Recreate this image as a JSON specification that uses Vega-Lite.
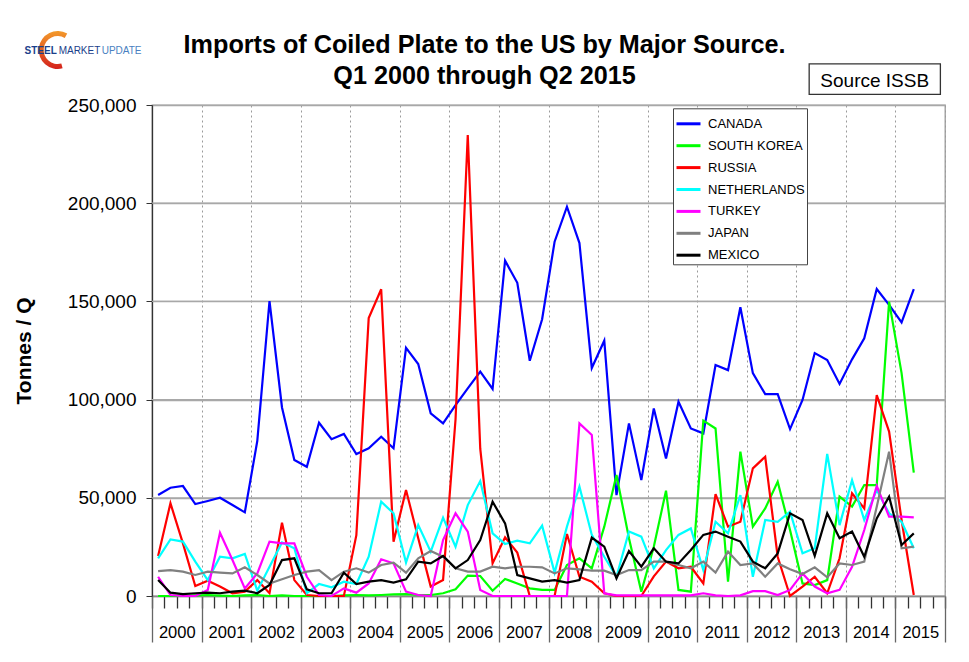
{
  "$schema": "https://vega.github.io/schema/vega-lite/v6.json",
  "width": 793,
  "height": 491,
  "autosize": {"type": "none"},
  "padding": {"left": 152, "top": 105, "right": 24, "bottom": 66},
  "background": "white",
  "config": {
    "font": "Liberation Sans",
    "view": {"stroke": "#9a9a9a", "strokeWidth": 1.3},
    "axisY": {
      "format": ",d",
      "tickCount": 5,
      "labelFontSize": 19,
      "labelColor": "black",
      "labelPadding": 10,
      "tickSize": 6,
      "tickColor": "#333333",
      "domainColor": "#333333",
      "domainWidth": 1.3,
      "grid": true,
      "gridColor": "#a8a8a8",
      "gridWidth": 1.3,
      "titleFontSize": 21,
      "titleFontWeight": "bold",
      "titleColor": "black",
      "titleX": -128,
      "titleBaseline": "middle"
    }
  },
  "title": {
    "text": ["Imports of Coiled Plate to the US by Major Source.", "Q1 2000 through Q2 2015"],
    "fontSize": 25.2,
    "fontWeight": "bold",
    "color": "black",
    "anchor": "middle",
    "frame": "group",
    "dx": -64,
    "offset": -58.5,
    "lineHeight": 31.6
  },
  "data": {
    "values": [
      {"date": "2000-02-15", "CANADA": 51400, "SOUTH KOREA": 0, "RUSSIA": 20400, "NETHERLANDS": 19200, "TURKEY": 9800, "JAPAN": 12700, "MEXICO": 8100},
      {"date": "2000-05-16", "CANADA": 55100, "SOUTH KOREA": 0, "RUSSIA": 47200, "NETHERLANDS": 28800, "TURKEY": 500, "JAPAN": 13200, "MEXICO": 1700},
      {"date": "2000-08-16", "CANADA": 56000, "SOUTH KOREA": 0, "RUSSIA": 26800, "NETHERLANDS": 27700, "TURKEY": 0, "JAPAN": 12400, "MEXICO": 1000},
      {"date": "2000-11-15", "CANADA": 46800, "SOUTH KOREA": 300, "RUSSIA": 5100, "NETHERLANDS": 17500, "TURKEY": 0, "JAPAN": 10700, "MEXICO": 1400},
      {"date": "2001-02-15", "CANADA": 48400, "SOUTH KOREA": 500, "RUSSIA": 7800, "NETHERLANDS": 8100, "TURKEY": 3100, "JAPAN": 12400, "MEXICO": 1700},
      {"date": "2001-05-16", "CANADA": 50000, "SOUTH KOREA": 200, "RUSSIA": 4800, "NETHERLANDS": 20000, "TURKEY": 32200, "JAPAN": 11900, "MEXICO": 1400},
      {"date": "2001-08-16", "CANADA": 46300, "SOUTH KOREA": 0, "RUSSIA": 1400, "NETHERLANDS": 19200, "TURKEY": 18300, "JAPAN": 11500, "MEXICO": 2200},
      {"date": "2001-11-15", "CANADA": 42600, "SOUTH KOREA": 300, "RUSSIA": 2200, "NETHERLANDS": 21400, "TURKEY": 3900, "JAPAN": 14600, "MEXICO": 2700},
      {"date": "2002-02-15", "CANADA": 79000, "SOUTH KOREA": 500, "RUSSIA": 8100, "NETHERLANDS": 2700, "TURKEY": 11500, "JAPAN": 10700, "MEXICO": 1400},
      {"date": "2002-05-16", "CANADA": 150200, "SOUTH KOREA": 0, "RUSSIA": 1400, "NETHERLANDS": 14900, "TURKEY": 27700, "JAPAN": 6400, "MEXICO": 5600},
      {"date": "2002-08-16", "CANADA": 96000, "SOUTH KOREA": 300, "RUSSIA": 37300, "NETHERLANDS": 27300, "TURKEY": 26800, "JAPAN": 8500, "MEXICO": 18300},
      {"date": "2002-11-15", "CANADA": 69200, "SOUTH KOREA": 0, "RUSSIA": 8100, "NETHERLANDS": 24300, "TURKEY": 26800, "JAPAN": 10700, "MEXICO": 19200},
      {"date": "2003-02-15", "CANADA": 65800, "SOUTH KOREA": 0, "RUSSIA": 500, "NETHERLANDS": 1400, "TURKEY": 9800, "JAPAN": 12400, "MEXICO": 3400},
      {"date": "2003-05-16", "CANADA": 88200, "SOUTH KOREA": 0, "RUSSIA": 0, "NETHERLANDS": 6100, "TURKEY": 500, "JAPAN": 13200, "MEXICO": 1400},
      {"date": "2003-08-16", "CANADA": 79800, "SOUTH KOREA": 0, "RUSSIA": 0, "NETHERLANDS": 4400, "TURKEY": 0, "JAPAN": 8100, "MEXICO": 1400},
      {"date": "2003-11-15", "CANADA": 82500, "SOUTH KOREA": 300, "RUSSIA": 0, "NETHERLANDS": 7300, "TURKEY": 3900, "JAPAN": 12400, "MEXICO": 11900},
      {"date": "2004-02-15", "CANADA": 72300, "SOUTH KOREA": 500, "RUSSIA": 31000, "NETHERLANDS": 6100, "TURKEY": 1700, "JAPAN": 14100, "MEXICO": 6100},
      {"date": "2004-05-16", "CANADA": 75200, "SOUTH KOREA": 300, "RUSSIA": 141500, "NETHERLANDS": 20000, "TURKEY": 6400, "JAPAN": 11900, "MEXICO": 7300},
      {"date": "2004-08-16", "CANADA": 81100, "SOUTH KOREA": 500, "RUSSIA": 156200, "NETHERLANDS": 48000, "TURKEY": 18700, "JAPAN": 15800, "MEXICO": 8100},
      {"date": "2004-11-15", "CANADA": 75200, "SOUTH KOREA": 800, "RUSSIA": 27600, "NETHERLANDS": 42100, "TURKEY": 16600, "JAPAN": 17000, "MEXICO": 6800},
      {"date": "2005-02-15", "CANADA": 126400, "SOUTH KOREA": 1000, "RUSSIA": 54000, "NETHERLANDS": 17000, "TURKEY": 2200, "JAPAN": 11900, "MEXICO": 8500},
      {"date": "2005-05-16", "CANADA": 118100, "SOUTH KOREA": 500, "RUSSIA": 29400, "NETHERLANDS": 36100, "TURKEY": 500, "JAPAN": 19200, "MEXICO": 17500},
      {"date": "2005-08-16", "CANADA": 93000, "SOUTH KOREA": 500, "RUSSIA": 4800, "NETHERLANDS": 22600, "TURKEY": 0, "JAPAN": 22900, "MEXICO": 16600},
      {"date": "2005-11-15", "CANADA": 87900, "SOUTH KOREA": 1400, "RUSSIA": 8100, "NETHERLANDS": 39900, "TURKEY": 28500, "JAPAN": 20000, "MEXICO": 20400},
      {"date": "2006-02-15", "CANADA": 97200, "SOUTH KOREA": 3400, "RUSSIA": 90000, "NETHERLANDS": 25100, "TURKEY": 42100, "JAPAN": 14100, "MEXICO": 14100},
      {"date": "2006-05-16", "CANADA": 105700, "SOUTH KOREA": 10400, "RUSSIA": 234700, "NETHERLANDS": 46300, "TURKEY": 32800, "JAPAN": 12400, "MEXICO": 18300},
      {"date": "2006-08-16", "CANADA": 114200, "SOUTH KOREA": 10200, "RUSSIA": 75000, "NETHERLANDS": 58500, "TURKEY": 3100, "JAPAN": 12400, "MEXICO": 28500},
      {"date": "2006-11-15", "CANADA": 105400, "SOUTH KOREA": 2700, "RUSSIA": 16600, "NETHERLANDS": 31900, "TURKEY": 0, "JAPAN": 14900, "MEXICO": 48000},
      {"date": "2007-02-15", "CANADA": 170700, "SOUTH KOREA": 8700, "RUSSIA": 29900, "NETHERLANDS": 26500, "TURKEY": 0, "JAPAN": 14100, "MEXICO": 37000},
      {"date": "2007-05-16", "CANADA": 159500, "SOUTH KOREA": 6400, "RUSSIA": 22100, "NETHERLANDS": 28200, "TURKEY": 0, "JAPAN": 14900, "MEXICO": 10700},
      {"date": "2007-08-16", "CANADA": 119800, "SOUTH KOREA": 3900, "RUSSIA": 0, "NETHERLANDS": 26800, "TURKEY": 0, "JAPAN": 14900, "MEXICO": 9000},
      {"date": "2007-11-15", "CANADA": 140900, "SOUTH KOREA": 3100, "RUSSIA": 0, "NETHERLANDS": 35800, "TURKEY": 0, "JAPAN": 14600, "MEXICO": 7300},
      {"date": "2008-02-15", "CANADA": 180400, "SOUTH KOREA": 3100, "RUSSIA": 0, "NETHERLANDS": 11900, "TURKEY": 0, "JAPAN": 11500, "MEXICO": 8100},
      {"date": "2008-05-16", "CANADA": 198200, "SOUTH KOREA": 15800, "RUSSIA": 31600, "NETHERLANDS": 35300, "TURKEY": 0, "JAPAN": 14100, "MEXICO": 6800},
      {"date": "2008-08-16", "CANADA": 179700, "SOUTH KOREA": 19200, "RUSSIA": 9800, "NETHERLANDS": 55700, "TURKEY": 87900, "JAPAN": 13600, "MEXICO": 8100},
      {"date": "2008-11-15", "CANADA": 116100, "SOUTH KOREA": 14100, "RUSSIA": 7300, "NETHERLANDS": 31100, "TURKEY": 82000, "JAPAN": 12900, "MEXICO": 29700},
      {"date": "2009-02-15", "CANADA": 130000, "SOUTH KOREA": 35300, "RUSSIA": 1400, "NETHERLANDS": 20000, "TURKEY": 1400, "JAPAN": 12900, "MEXICO": 25100},
      {"date": "2009-05-16", "CANADA": 51400, "SOUTH KOREA": 61600, "RUSSIA": 0, "NETHERLANDS": 9800, "TURKEY": 300, "JAPAN": 10700, "MEXICO": 9000},
      {"date": "2009-08-16", "CANADA": 87900, "SOUTH KOREA": 29400, "RUSSIA": 0, "NETHERLANDS": 32800, "TURKEY": 300, "JAPAN": 13200, "MEXICO": 22900},
      {"date": "2009-11-15", "CANADA": 59000, "SOUTH KOREA": 2200, "RUSSIA": 0, "NETHERLANDS": 30200, "TURKEY": 300, "JAPAN": 13200, "MEXICO": 14900},
      {"date": "2010-02-15", "CANADA": 95500, "SOUTH KOREA": 25100, "RUSSIA": 10000, "NETHERLANDS": 14100, "TURKEY": 300, "JAPAN": 17500, "MEXICO": 24300},
      {"date": "2010-05-16", "CANADA": 70000, "SOUTH KOREA": 53600, "RUSSIA": 17500, "NETHERLANDS": 23400, "TURKEY": 300, "JAPAN": 17500, "MEXICO": 17500},
      {"date": "2010-08-16", "CANADA": 98900, "SOUTH KOREA": 3100, "RUSSIA": 14100, "NETHERLANDS": 31100, "TURKEY": 300, "JAPAN": 15800, "MEXICO": 16600},
      {"date": "2010-11-15", "CANADA": 85300, "SOUTH KOREA": 2200, "RUSSIA": 14900, "NETHERLANDS": 34400, "TURKEY": 300, "JAPAN": 14100, "MEXICO": 23400},
      {"date": "2011-02-15", "CANADA": 82800, "SOUTH KOREA": 89300, "RUSSIA": 6400, "NETHERLANDS": 13200, "TURKEY": 1400, "JAPAN": 17500, "MEXICO": 31100},
      {"date": "2011-05-16", "CANADA": 117600, "SOUTH KOREA": 85300, "RUSSIA": 51900, "NETHERLANDS": 37800, "TURKEY": 300, "JAPAN": 11900, "MEXICO": 32800},
      {"date": "2011-08-16", "CANADA": 115000, "SOUTH KOREA": 7300, "RUSSIA": 35300, "NETHERLANDS": 31900, "TURKEY": 0, "JAPAN": 22600, "MEXICO": 30200},
      {"date": "2011-11-15", "CANADA": 147000, "SOUTH KOREA": 73500, "RUSSIA": 37800, "NETHERLANDS": 51400, "TURKEY": 300, "JAPAN": 15800, "MEXICO": 27700},
      {"date": "2012-02-15", "CANADA": 113500, "SOUTH KOREA": 35300, "RUSSIA": 65000, "NETHERLANDS": 9800, "TURKEY": 2500, "JAPAN": 16600, "MEXICO": 17500},
      {"date": "2012-05-16", "CANADA": 102800, "SOUTH KOREA": 44600, "RUSSIA": 70900, "NETHERLANDS": 38700, "TURKEY": 2500, "JAPAN": 9800, "MEXICO": 14100},
      {"date": "2012-08-16", "CANADA": 102800, "SOUTH KOREA": 58200, "RUSSIA": 20000, "NETHERLANDS": 37800, "TURKEY": 500, "JAPAN": 16600, "MEXICO": 21700},
      {"date": "2012-11-15", "CANADA": 85000, "SOUTH KOREA": 33600, "RUSSIA": 0, "NETHERLANDS": 42900, "TURKEY": 3100, "JAPAN": 13600, "MEXICO": 42100},
      {"date": "2013-02-15", "CANADA": 99800, "SOUTH KOREA": 6400, "RUSSIA": 4800, "NETHERLANDS": 21700, "TURKEY": 11500, "JAPAN": 11200, "MEXICO": 38700},
      {"date": "2013-05-16", "CANADA": 123700, "SOUTH KOREA": 5600, "RUSSIA": 9800, "NETHERLANDS": 24300, "TURKEY": 4800, "JAPAN": 14600, "MEXICO": 20400},
      {"date": "2013-08-16", "CANADA": 120200, "SOUTH KOREA": 8100, "RUSSIA": 1400, "NETHERLANDS": 72300, "TURKEY": 1400, "JAPAN": 9500, "MEXICO": 42100},
      {"date": "2013-11-15", "CANADA": 108000, "SOUTH KOREA": 50600, "RUSSIA": 19200, "NETHERLANDS": 36100, "TURKEY": 3100, "JAPAN": 16600, "MEXICO": 29400},
      {"date": "2014-02-15", "CANADA": 120500, "SOUTH KOREA": 45500, "RUSSIA": 52300, "NETHERLANDS": 59000, "TURKEY": 14900, "JAPAN": 15800, "MEXICO": 32800},
      {"date": "2014-05-16", "CANADA": 131200, "SOUTH KOREA": 56500, "RUSSIA": 44600, "NETHERLANDS": 38700, "TURKEY": 33600, "JAPAN": 17500, "MEXICO": 20000},
      {"date": "2014-08-16", "CANADA": 156300, "SOUTH KOREA": 56500, "RUSSIA": 102300, "NETHERLANDS": 54000, "TURKEY": 56000, "JAPAN": 45500, "MEXICO": 39500},
      {"date": "2014-11-15", "CANADA": 148200, "SOUTH KOREA": 149900, "RUSSIA": 83700, "NETHERLANDS": 42100, "TURKEY": 40400, "JAPAN": 73500, "MEXICO": 50600},
      {"date": "2015-02-15", "CANADA": 139300, "SOUTH KOREA": 113500, "RUSSIA": 38700, "NETHERLANDS": 37800, "TURKEY": 40400, "JAPAN": 24300, "MEXICO": 26000},
      {"date": "2015-05-16", "CANADA": 156300, "SOUTH KOREA": 62800, "RUSSIA": 500, "NETHERLANDS": 24300, "TURKEY": 40000, "JAPAN": 25100, "MEXICO": 31900}
    ]
  },
  "layer": [
    {
      "data": {"values": [{"tonnes": 50000}, {"tonnes": 100000}, {"tonnes": 150000}, {"tonnes": 200000}]},
      "mark": {"type": "rule", "color": "#a8a8a8", "strokeWidth": 1.3},
      "encoding": {
        "y": {"field": "tonnes", "type": "quantitative", "scale": {"domain": [0, 250000]}, "axis": {"title": "Tonnes / Q", "format": ",d", "grid": true, "tickCount": 5}}
      }
    },
    {
      "mark": {"type": "point", "opacity": 0},
      "encoding": {
        "x": {
          "field": "date",
          "type": "temporal",
          "scale": {"type": "utc", "domain": [{"year": 2000, "month": 1, "date": 1, "utc": true}, {"year": 2016, "month": 1, "date": 1, "utc": true}]},
          "axis": {
            "orient": "bottom",
            "title": null,
            "tickCount": {"interval": "month", "step": 3},
            "labels": false,
            "grid": false,
            "domain": false,
            "tickSize": 12,
            "tickColor": "#333333",
            "tickWidth": 1.3
          }
        },
        "y": {"field": "CANADA", "type": "quantitative", "scale": {"domain": [0, 250000]}, "axis": {"title": "Tonnes / Q", "format": ",d", "grid": true, "tickCount": 5}}
      }
    },
    {
      "transform": [
        {"fold": ["CANADA", "SOUTH KOREA", "RUSSIA", "NETHERLANDS", "TURKEY", "JAPAN", "MEXICO"], "as": ["source", "tonnes"]}
      ],
      "mark": {"type": "line", "strokeWidth": 2.2},
      "encoding": {
        "x": {
          "field": "date",
          "type": "temporal",
          "axis": {
            "orient": "bottom",
            "title": null,
            "tickCount": {"interval": "year", "step": 1},
            "labelExpr": "utcyear(datum.value) < 2016 ? utcFormat(datum.value, '%Y') : ''",
            "labelOffset": 24.8,
            "labelFontSize": 16.5,
            "labelColor": "black",
            "labelBaseline": "alphabetic",
            "labelPadding": -4.3,
            "labelFlush": false,
            "labelOverlap": false,
            "labelBound": false,
            "tickSize": 46,
            "tickColor": "#666666",
            "tickWidth": 1.3,
            "grid": true,
            "gridColor": "#9a9a9a",
            "gridDash": [2, 3],
            "gridWidth": 1,
            "domainColor": "#8a8a8a",
            "domainWidth": 1.3
          }
        },
        "y": {"field": "tonnes", "type": "quantitative", "scale": {"domain": [0, 250000]}, "axis": {"title": "Tonnes / Q", "format": ",d", "grid": true, "tickCount": 5}},
        "color": {
          "field": "source",
          "type": "nominal",
          "scale": {
            "domain": ["CANADA", "SOUTH KOREA", "RUSSIA", "NETHERLANDS", "TURKEY", "JAPAN", "MEXICO"],
            "range": ["#0000ff", "#00ff00", "#ff0000", "#00ffff", "#ff00ff", "#808080", "#000000"]
          },
          "legend": {
            "title": null,
            "orient": "none",
            "legendX": 521,
            "legendY": 3.3,
            "padding": 2,
            "symbolType": "stroke",
            "symbolSize": 576,
            "symbolStrokeWidth": 3,
            "rowPadding": 0.9,
            "labelOffset": 6,
            "labelFontSize": 13,
            "labelColor": "black",
            "labelLimit": 200,
            "strokeColor": "#444444",
            "fillColor": "white"
          }
        }
      }
    },
    {
      "data": {"values": [{}]},
      "mark": {
        "type": "arc",
        "theta": 2.88,
        "theta2": 6.81,
        "radius": 19,
        "radius2": 14,
        "fill": {"gradient": "linear", "x1": 0, "y1": 0, "x2": 0, "y2": 1, "stops": [{"offset": 0, "color": "#f39a2b"}, {"offset": 1, "color": "#d4221c"}]}
      },
      "encoding": {
        "x": {"datum": {"year": 1998, "month": 2, "date": 5, "utc": true}, "type": "temporal", "axis": null},
        "y": {"datum": 278000, "type": "quantitative", "scale": {"domain": [0, 250000]}, "axis": {"title": "Tonnes / Q", "format": ",d", "grid": true, "tickCount": 5}}
      }
    },
    {
      "data": {"values": [{}]},
      "mark": {"type": "text", "text": "STEEL", "align": "left", "baseline": "alphabetic", "fontSize": 10, "fontWeight": "bold", "color": "#1b3f8b"},
      "encoding": {
        "x": {"datum": {"year": 1997, "month": 6, "date": 6, "utc": true}, "type": "temporal", "axis": null},
        "y": {"datum": 275800, "type": "quantitative", "scale": {"domain": [0, 250000]}, "axis": {"title": "Tonnes / Q", "format": ",d", "grid": true, "tickCount": 5}}
      }
    },
    {
      "data": {"values": [{}]},
      "mark": {"type": "text", "text": "MARKET", "align": "left", "baseline": "alphabetic", "fontSize": 10, "color": "#1b3f8b"},
      "encoding": {
        "x": {"datum": {"year": 1998, "month": 2, "date": 12, "utc": true}, "type": "temporal", "axis": null},
        "y": {"datum": 275800, "type": "quantitative", "scale": {"domain": [0, 250000]}, "axis": {"title": "Tonnes / Q", "format": ",d", "grid": true, "tickCount": 5}}
      }
    },
    {
      "data": {"values": [{}]},
      "mark": {"type": "text", "text": "UPDATE", "align": "left", "baseline": "alphabetic", "fontSize": 10, "color": "#4a7fc1"},
      "encoding": {
        "x": {"datum": {"year": 1998, "month": 12, "date": 26, "utc": true}, "type": "temporal", "axis": null},
        "y": {"datum": 275800, "type": "quantitative", "scale": {"domain": [0, 250000]}, "axis": {"title": "Tonnes / Q", "format": ",d", "grid": true, "tickCount": 5}}
      }
    },
    {
      "data": {"values": [{}]},
      "mark": {"type": "rect", "fill": "white", "stroke": "#333333", "strokeWidth": 1.3},
      "encoding": {
        "x": {"datum": {"year": 2013, "month": 4, "date": 5, "utc": true}, "type": "temporal", "axis": null},
        "x2": {"datum": {"year": 2015, "month": 11, "date": 28, "utc": true}},
        "y": {"datum": 270900, "type": "quantitative", "scale": {"domain": [0, 250000]}, "axis": {"title": "Tonnes / Q", "format": ",d", "grid": true, "tickCount": 5}},
        "y2": {"datum": 255400}
      }
    },
    {
      "data": {"values": [{}]},
      "mark": {"type": "text", "text": "Source ISSB", "align": "center", "baseline": "alphabetic", "fontSize": 19, "color": "black"},
      "encoding": {
        "x": {"datum": {"year": 2014, "month": 8, "date": 1, "utc": true}, "type": "temporal", "axis": null},
        "y": {"datum": 259300, "type": "quantitative", "scale": {"domain": [0, 250000]}, "axis": {"title": "Tonnes / Q", "format": ",d", "grid": true, "tickCount": 5}}
      }
    }
  ],
  "resolve": {"axis": {"x": "independent"}}
}
